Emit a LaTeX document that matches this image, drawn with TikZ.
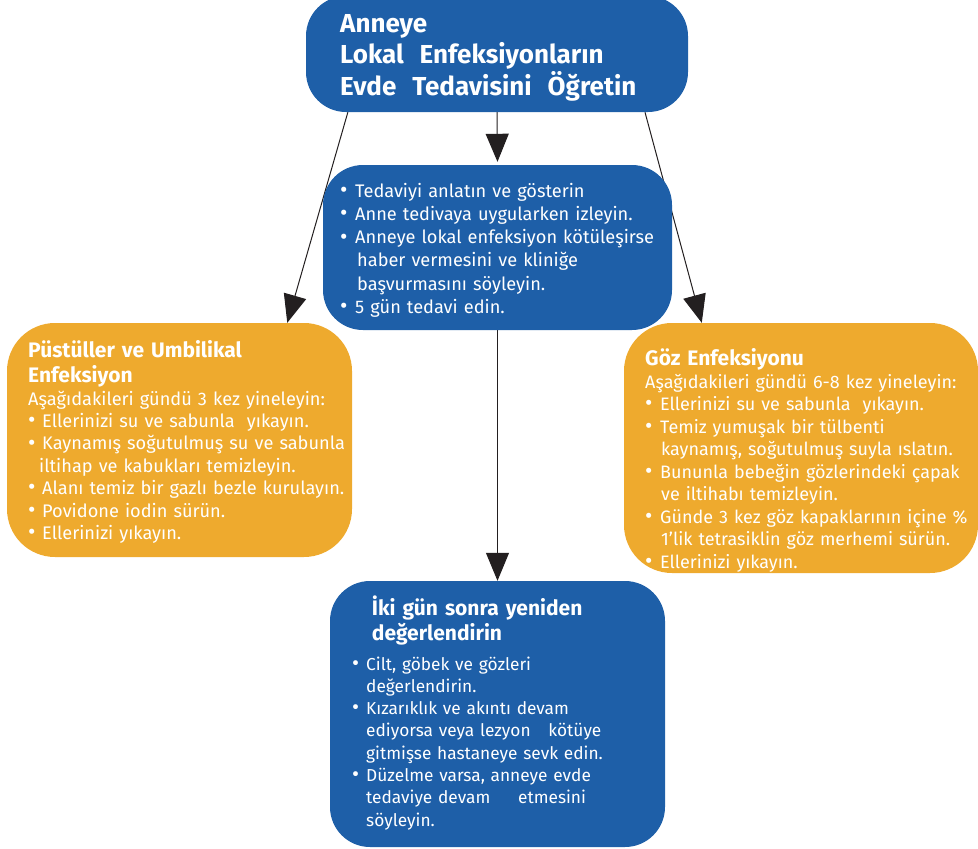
\documentclass[tikz,border=0pt]{standalone}
\usepackage{fontspec}
\setmainfont{Fira Sans}
\usetikzlibrary{arrows.meta,calc,backgrounds}
\definecolor{boxblue}{RGB}{30,95,168}
\definecolor{boxorange}{RGB}{238,170,46}
\definecolor{arrowink}{RGB}{35,31,32}
\newcommand\bul[1][14pt]{\makebox[#1][l]{\raisebox{-0.3pt}{\scalebox{1.25}{•}}}}
\newcommand\cont[1][14pt]{\hspace*{#1}}
\newcommand\widewords{\spaceskip=16pt\relax}
\tikzset{
  panel/.style={rectangle, rounded corners=#1, inner sep=0pt, draw=none},
  bluepanel/.style={panel=40pt, fill=boxblue},
  orangepanel/.style={panel=48pt, fill=boxorange},
  txt/.style={anchor=base west, inner sep=0pt, text=white, align=left, text width=380pt},
  bigtitle/.style={txt, font=\bfseries\fontsize{26}{31.5}\selectfont},
  subtitle/.style={txt, font=\bfseries\fontsize{21}{25.5}\selectfont},
  bodytext/.style={txt, font=\fontsize{18.2}{22.4}\selectfont},
  conn/.style={draw=arrowink, line width=1pt, -{Triangle[length=28pt,width=23pt]}}
}
\begin{document}
\begin{tikzpicture}[x=1pt,y=-1pt]
\useasboundingbox (0,0) rectangle (978,849);
% panels
\node[bluepanel, minimum width=382pt, minimum height=116pt] (top) at (497,54) {};
\node[bluepanel, minimum width=349pt, minimum height=165pt] (mid) at (497.5,247.5) {};
\node[orangepanel, minimum width=345pt, minimum height=234pt] (left) at (179.5,440) {};
\node[orangepanel, minimum width=354pt, minimum height=250pt] (right) at (801,448) {};
\node[bluepanel, minimum width=335pt, minimum height=266pt] (bottom) at (497.5,714) {};
% connectors
\begin{pgfonlayer}{background}
\draw[conn] ($(top.south west)!0.11!(top.south east)$) -- ($(left.north west)!0.812!(left.north east)$);
\draw[conn] ($(top.south west)!0.887!(top.south east)$) -- ($(right.north west)!0.22!(right.north east)$);
\draw[conn] (top.south) -- ([yshift=3pt]mid.north);
\draw[conn] (mid.south) -- (bottom.north);
\end{pgfonlayer}
% texts
\node[bigtitle] (toptxt) at (340,32) {\widewords Anneye\\Lokal Enfeksiyonların\\Evde Tedavisini Öğretin};
\node[bodytext, font=\fontsize{18.2}{23.2}\selectfont] (midtxt) at (340,197.3) {\bul[15pt]Tedaviyi anlatın ve gösterin\\
\bul[15pt]Anne tedivaya uygularken izleyin.\\
\bul[15pt]Anneye lokal enfeksiyon kötüleşirse\\
\cont[17pt]haber vermesini ve kliniğe\\
\cont[17pt]başvurmasını söyleyin.\\
\bul[15pt]5 gün tedavi edin.};
\node[subtitle] (lefttitle) at (28,357) {Püstüller ve Umbilikal\\Enfeksiyon};
\node[bodytext] (lefttxt) at (28,405) {Aşağıdakileri gündü 3 kez yineleyin:\\
\bul Ellerinizi su ve sabunla\ \ yıkayın.\\
\bul Kaynamış soğutulmuş su ve sabunla\\
\cont[11pt]iltihap ve kabukları temizleyin.\\
\bul Alanı temiz bir gazlı bezle kurulayın.\\
\bul Povidone iodin sürün.\\
\bul Ellerinizi yıkayın.};
\node[subtitle] (righttitle) at (645,365) {Göz Enfeksiyonu};
\node[bodytext, font=\fontsize{18}{22.5}\selectfont] (righttxt) at (645,388) {Aşağıdakileri gündü 6-8 kez yineleyin:\\
\bul[15pt]Ellerinizi su ve sabunla\ \ yıkayın.\\
\bul[15pt]Temiz yumuşak bir tülbenti\\
\cont[16pt]kaynamış, soğutulmuş suyla ıslatın.\\
\bul[15pt]Bununla bebeğin gözlerindeki çapak\\
\cont[16pt]ve iltihabı temizleyin.\\
\bul[15pt]Günde 3 kez göz kapaklarının içine \%\\
\cont[16pt]1’lik tetrasiklin göz merhemi sürün.\\
\bul[15pt]Ellerinizi yıkayın.};
\node[subtitle, font=\bfseries\fontsize{21}{25}\selectfont] (bottomtitle) at (371.7,615) {İki gün sonra yeniden\\değerlendirin};
\node[bodytext, font=\fontsize{17.3}{22.3}\selectfont] (bottomtxt) at (352,670) {\bul Cilt, göbek ve gözleri\\
\cont değerlendirin.\\
\bul Kızarıklık ve akıntı devam\\
\cont ediyorsa veya lezyon\hspace{12pt} kötüye\\
\cont gitmişse hastaneye sevk edin.\\
\bul Düzelme varsa, anneye evde\\
\cont tedaviye devam\hspace{22pt} etmesini\\
\cont söyleyin.};
\end{tikzpicture}
\end{document}
